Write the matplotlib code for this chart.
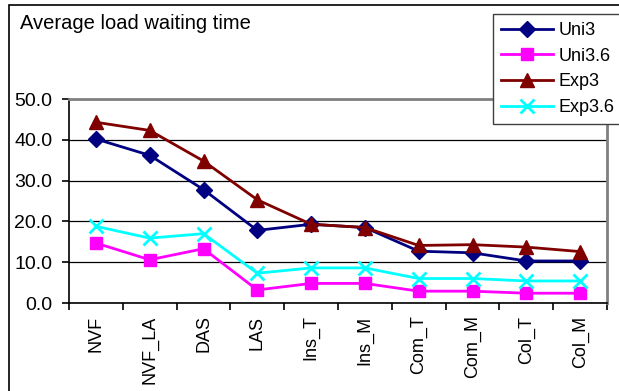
import matplotlib.pyplot as plt
from matplotlib.patches import Rectangle

plt.rcParams['font.family'] = ['Liberation Sans', 'DejaVu Sans']

categories = ['NVF', 'NVF_LA', 'DAS', 'LAS', 'Ins_T', 'Ins_M', 'Com_T', 'Com_M', 'Col_T', 'Col_M']
uni3 = [40.2, 36.2, 27.8, 17.8, 19.3, 18.5, 12.7, 12.3, 10.3, 10.3]
uni36 = [14.7, 10.6, 13.3, 3.2, 4.8, 4.8, 2.9, 2.9, 2.4, 2.4]
exp3 = [44.3, 42.3, 34.8, 25.3, 19.3, 18.5, 14.1, 14.3, 13.7, 12.6]
exp36 = [18.8, 15.9, 17.0, 7.3, 8.6, 8.6, 6.0, 6.0, 5.4, 5.4]
yticks = [0, 10, 20, 30, 40, 50]

fig = plt.figure(figsize=(6.19, 3.91), dpi=100)
ax = fig.add_axes([69/619, 88/391, 538/619, 204/391])

x = range(len(categories))
ax.plot(x, uni3, color='#000080', lw=2, marker='D', ms=8, label='Uni3')
ax.plot(x, uni36, color='#FF00FF', lw=2, marker='s', ms=9, label='Uni3.6')
ax.plot(x, exp3, color='#800000', lw=2, marker='^', ms=10, label='Exp3')
ax.plot(x, exp36, color='#00FFFF', lw=2, marker='x', ms=10, mew=2, label='Exp3.6')

ax.set_xlim(-0.5, len(categories) - 0.5)
ax.set_ylim(0, 50)
ax.set_yticks(yticks)
ax.set_yticklabels(['%.1f' % v for v in yticks], fontsize=14)
ax.yaxis.grid(True, color='black', lw=0.9)
ax.set_axisbelow(True)

# category boundaries get the tick marks, labels sit in between
ax.set_xticks([i - 0.5 for i in range(len(categories) + 1)])
ax.set_xticklabels([])
ax.set_xticks(list(x), minor=True)
ax.set_xticklabels(categories, minor=True, rotation=90, fontsize=13)
ax.tick_params(axis='x', which='major', length=5, width=1.2, direction='out')
ax.tick_params(axis='x', which='minor', length=0, pad=9)
ax.tick_params(axis='y', length=5, width=1.2, pad=7)

ax.spines['left'].set_linewidth(1.2)
ax.spines['bottom'].set_linewidth(1.2)
ax.spines['top'].set_color('#808080')
ax.spines['top'].set_linewidth(2)
ax.spines['right'].set_color('#808080')
ax.spines['right'].set_linewidth(2)

fig.text(20/619, 1 - 29/391, 'Average load waiting time', fontsize=14.5, va='baseline')

leg = fig.legend(loc='upper left', bbox_to_anchor=(493/619, 1 - 14/391), fontsize=13,
                 frameon=True, fancybox=False, borderpad=0.45, labelspacing=0.48,
                 handlelength=2.9, handletextpad=0.3, borderaxespad=0)
leg.get_frame().set_edgecolor('#404040')
leg.get_frame().set_linewidth(1)
leg.get_frame().set_alpha(1)

fig.patches.append(Rectangle((9/619, -0.1), 1.2, 1.1 - 5/391,
                             transform=fig.transFigure, fill=False,
                             edgecolor='black', lw=1.2, clip_on=False))

fig.savefig('out.png', dpi=100)
